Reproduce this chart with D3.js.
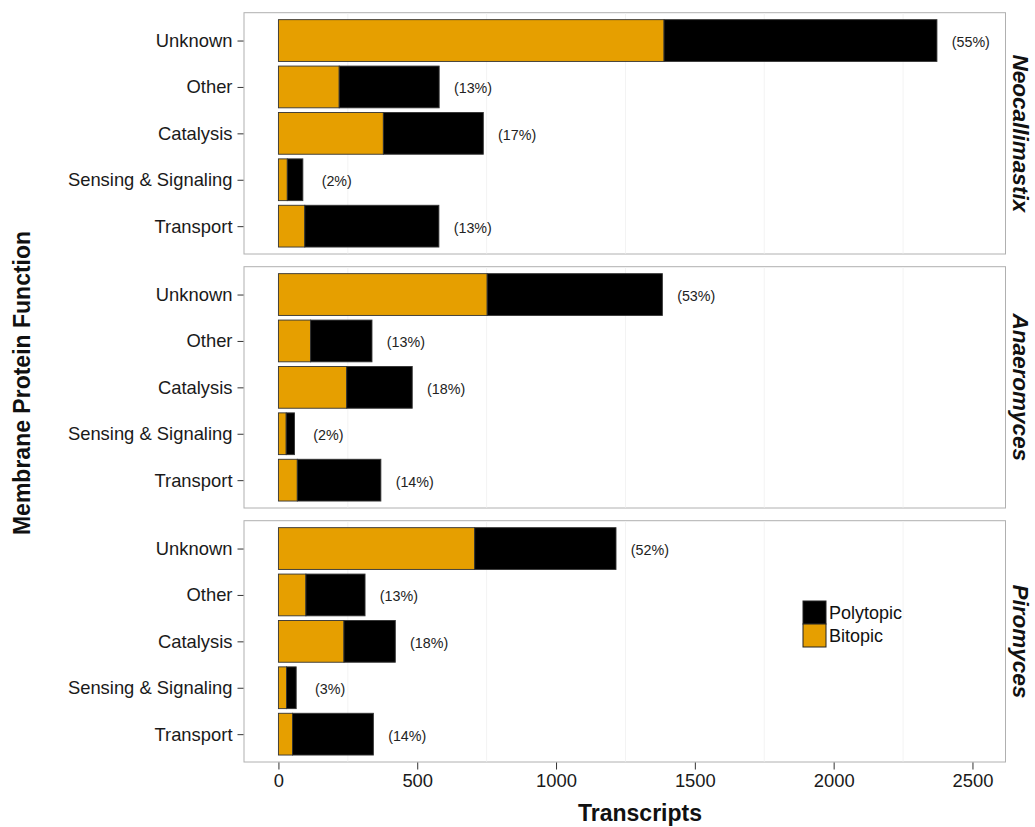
<!DOCTYPE html>
<html><head><meta charset="utf-8">
<script src="https://cdn.jsdelivr.net/npm/d3@7"></script>
<style>body{margin:0;background:#fff;} text{font-family:"Liberation Sans",Arial,sans-serif;}</style>
</head><body>
<svg id="chart" width="1035" height="827"></svg>
<script>
const categories = ["Unknown","Other","Catalysis","Sensing & Signaling","Transport"];
const genera = ["Neocallimastix","Anaeromyces","Piromyces"];
const bitopic = [
  [1389, 219, 378, 32, 95],
  [752, 116, 246, 28, 68],
  [707, 99, 236, 29, 51]
];
const polytopic = [
  [983, 360, 360, 56, 483],
  [631, 221, 236, 30, 301],
  [509, 213, 185, 35, 291]
];
const percentLabels = [
  ["(55%)","(13%)","(17%)","(2%)","(13%)"],
  ["(53%)","(13%)","(18%)","(2%)","(14%)"],
  ["(52%)","(13%)","(18%)","(3%)","(14%)"]
];
const xTicks = [0, 500, 1000, 1500, 2000, 2500];
const xMinorGrid = [250, 750, 1250, 1750, 2250];
const seriesNames = ["Polytopic","Bitopic"];
const seriesColors = {Bitopic:"#E69F00", Polytopic:"#000000"};

const svg = d3.select("#chart");
const panelLeft = 244, panelRight = 1005.5;
const panelTops = [12.7, 266.7, 520.7];
const panelH = 241.3;
const labelOffset = 122;

const x = d3.scaleLinear().domain([-124, 2619]).range([panelLeft, panelRight]);

genera.forEach((g, gi) => {
  const top = panelTops[gi];
  const y = d3.scalePoint().domain(categories).range([top, top + panelH]).padding(0.6);
  const step = y.step();
  const bh = step * 0.9;
  const p = svg.append("g");
  p.append("rect").attr("x", panelLeft).attr("y", top).attr("width", panelRight - panelLeft).attr("height", panelH)
    .attr("fill", "#fff").attr("stroke", "#b0b0b0").attr("stroke-width", 1);
  p.selectAll("line.grid").data(xMinorGrid).enter().append("line")
    .attr("x1", d => x(d)).attr("x2", d => x(d)).attr("y1", top + 0.5).attr("y2", top + panelH - 0.5)
    .attr("stroke", "#f3f3f3").attr("stroke-width", 1);
  const rows = categories.map((c, i) => ({c, b: bitopic[gi][i], p: polytopic[gi][i], lab: percentLabels[gi][i]}));
  p.selectAll("rect.bit").data(rows).enter().append("rect")
    .attr("x", x(0)).attr("y", d => y(d.c) - bh / 2).attr("width", d => x(d.b) - x(0)).attr("height", bh)
    .attr("fill", seriesColors.Bitopic).attr("stroke", "#333").attr("stroke-width", 0.9);
  p.selectAll("rect.poly").data(rows).enter().append("rect")
    .attr("x", d => x(d.b)).attr("y", d => y(d.c) - bh / 2).attr("width", d => x(d.b + d.p) - x(d.b)).attr("height", bh)
    .attr("fill", seriesColors.Polytopic).attr("stroke", "#333").attr("stroke-width", 0.9);
  p.selectAll("text.pct").data(rows).enter().append("text")
    .attr("x", d => x(d.b + d.p + labelOffset)).attr("y", d => y(d.c) + 1.5)
    .attr("text-anchor", "middle").attr("dominant-baseline", "central")
    .attr("font-size", "14.3px").attr("fill", "#222").text(d => d.lab);
  // y axis
  const ya = d3.axisLeft(y).tickSize(6).tickPadding(5);
  const ga = svg.append("g").attr("transform", `translate(${panelLeft - 0.5},0)`).call(ya);
  ga.select(".domain").remove();
  ga.selectAll(".tick line").attr("stroke", "#333");
  ga.selectAll(".tick text").attr("font-size", "18.4px").attr("fill", "#1a1a1a")
    .style("font-family", '"Liberation Sans",Arial,sans-serif');
  // strip label
  svg.append("text").attr("transform", `translate(1013,${top + panelH / 2}) rotate(90)`)
    .attr("text-anchor", "middle").attr("font-size", "22.5px").attr("font-weight", "bold").attr("font-style", "italic")
    .attr("fill", "#111").text(g);
});

// x axis
const bottom = panelTops[2] + panelH;
const xa = d3.axisBottom(x).tickValues(xTicks).tickSize(7).tickPadding(4).tickFormat(d3.format("d"));
const gx = svg.append("g").attr("transform", `translate(0,${bottom + 0.5})`).call(xa);
gx.select(".domain").remove();
gx.selectAll(".tick line").attr("stroke", "#333");
gx.selectAll(".tick text").attr("font-size", "18.4px").attr("fill", "#1a1a1a")
  .style("font-family", '"Liberation Sans",Arial,sans-serif');

svg.append("text").attr("x", 640).attr("y", 821).attr("text-anchor", "middle")
  .attr("font-size", "23px").attr("font-weight", "bold").attr("fill", "#111").text("Transcripts");
svg.append("text").attr("transform", `translate(30,383) rotate(-90)`).attr("text-anchor", "middle")
  .attr("font-size", "23px").attr("font-weight", "bold").attr("fill", "#111").text("Membrane Protein Function");

// legend
const lg = svg.append("g").attr("transform", "translate(803,601)");
seriesNames.forEach((s, i) => {
  lg.append("rect").attr("x", 0).attr("y", i * 23).attr("width", 23).attr("height", 23)
    .attr("fill", seriesColors[s]).attr("stroke", "#222").attr("stroke-width", 1);
  lg.append("text").attr("x", 26).attr("y", i * 23 + 12).attr("dominant-baseline", "central")
    .attr("font-size", "18px").attr("fill", "#111").text(s);
});
</script>
</body></html>
